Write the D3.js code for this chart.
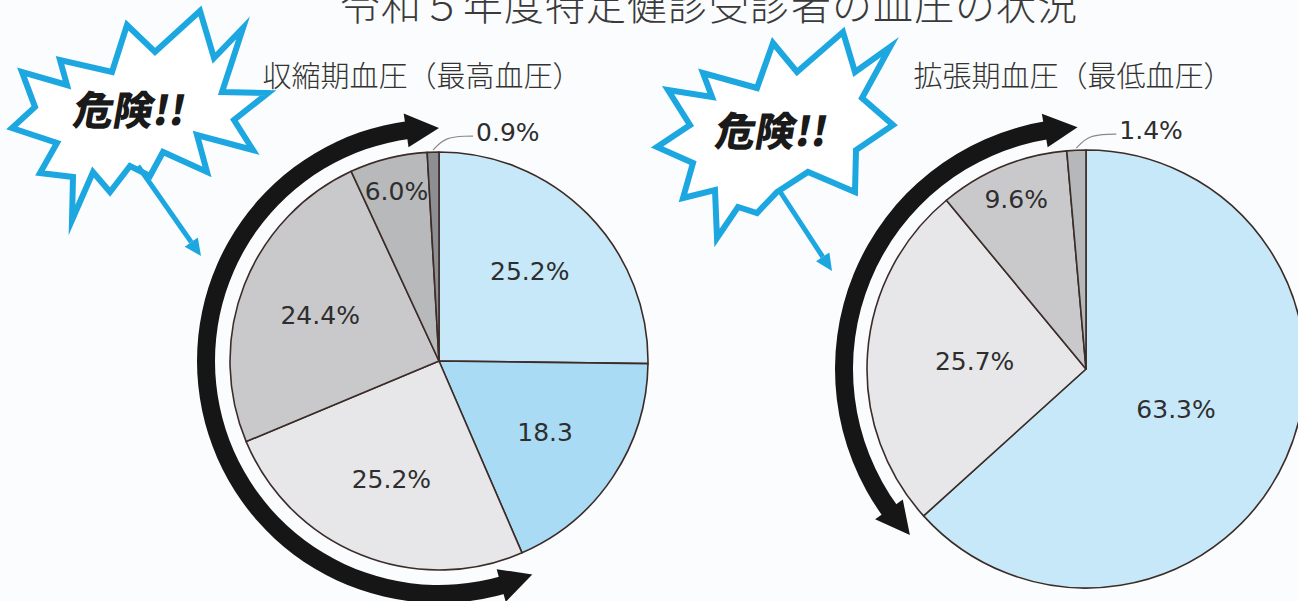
<!DOCTYPE html>
<html>
<head>
<meta charset="utf-8">
<script src="https://cdn.jsdelivr.net/npm/d3@7"></script>
<style>
  html, body { margin: 0; padding: 0; background: #fbfcfd; }
  svg { display: block; }
</style>
</head>
<body>
<svg id="chart" width="1298" height="601"></svg>
<script>
// ---------------- DATA ----------------
const titleText = "令和５年度特定健診受診者の血圧の状況";
const systolicTitle = "収縮期血圧（最高血圧）";
const diastolicTitle = "拡張期血圧（最低血圧）";
const dangerText = "危険!!";

const systolicValues = [25.2, 18.3, 25.2, 24.4, 6.0, 0.9];
const systolicLabels = ["25.2%", "18.3", "25.2%", "24.4%", "6.0%", "0.9%"];
const diastolicValues = [63.3, 25.7, 9.6, 1.4];
const diastolicLabels = ["63.3%", "25.7%", "9.6%", "1.4%"];

// ---------------- STYLE ----------------
const systolicColors = ["#c7e8f8", "#a9dcf4", "#e7e7e9", "#c9c9cb", "#b8b9bb", "#8d8f92"];
const diastolicColors = ["#c7e8f8", "#e7e7e9", "#c9c9cb", "#b6b7b9"];
const sliceStroke = "#3b2c28";
const burstBlue = "#1ca7e1";
const labelFont = "'DejaVu Sans', 'Liberation Sans', sans-serif";
const jpFont = "'Noto Sans CJK JP', 'Noto Sans', sans-serif";

const svg = d3.select("#chart");

// Title (partly cut at top as in the reference)
svg.append("text")
  .attr("x", 709).attr("y", 20)
  .attr("text-anchor", "middle")
  .attr("font-family", jpFont)
  .attr("font-weight", 300)
  .attr("font-size", 40)
  .attr("letter-spacing", 1)
  .attr("fill", "#3a3a3a")
  .text(titleText);

function polar(cx, cy, a, r) { return [cx + r * Math.sin(a), cy - r * Math.cos(a)]; }

function drawPie(cfg) {
  const g = svg.append("g");
  const pie = d3.pie().sort(null).value(d => d);
  const arcs = pie(cfg.values);
  const arc = d3.arc().innerRadius(0).outerRadius(cfg.r);

  // subtitle
  svg.append("text")
    .attr("x", cfg.titleX).attr("y", cfg.titleY)
    .attr("text-anchor", "middle")
    .attr("font-family", jpFont)
    .attr("font-weight", 300)
    .attr("font-size", 29)
    .attr("fill", "#333")
    .text(cfg.title);

  const pg = g.append("g").attr("transform", `translate(${cfg.cx},${cfg.cy})`);
  pg.selectAll("path.slice").data(arcs).enter().append("path")
    .attr("class", "slice")
    .attr("d", arc)
    .attr("fill", (d, i) => cfg.colors[i])
    .attr("stroke", sliceStroke)
    .attr("stroke-width", 1.6)
    .attr("stroke-linejoin", "round");

  // labels
  arcs.forEach((d, i) => {
    const mid = (d.startAngle + d.endAngle) / 2;
    const v = d.value;
    let x, y, anchor = "middle";
    if (v < 2) {
      // leader line to outside label
      const p0 = polar(0, 0, mid, cfg.r + 2);
      const lx = p0[0] + 40, ly = p0[1] - 14;
      pg.append("path")
        .attr("d", d3.line().curve(d3.curveBasis)([p0, [p0[0] + 12, ly + 1], [lx - 6, ly], [lx, ly]]))
        .attr("fill", "none").attr("stroke", "#8a8a8a").attr("stroke-width", 1.2);
      x = lx + 3; y = ly - 4; anchor = "start";
    } else {
      const f = v < 10 ? 0.84 : (v > 50 ? 0.45 : cfg.labelR);
      [x, y] = polar(0, 0, mid, cfg.r * f);
    }
    pg.append("text")
      .attr("x", x).attr("y", y)
      .attr("dy", "0.36em")
      .attr("text-anchor", anchor)
      .attr("font-family", labelFont)
      .attr("font-size", 25)
      .attr("fill", "#2e2e2e")
      .text(cfg.labels[i]);
  });

  // double-headed curved arrow around the pie
  const R = cfg.arrowR, half = 9, headHalf = 17, L = 33;
  const a0 = cfg.arrowStart * Math.PI / 180, a1 = cfg.arrowEnd * Math.PI / 180;
  const dA = L / R;
  const shaft = d3.arc().innerRadius(R - half).outerRadius(R + half)
    .startAngle(a0 + dA * 0.9).endAngle(a1 - dA * 0.9);
  pg.append("path").attr("d", shaft()).attr("fill", "#161616");
  const headEnd = [polar(0, 0, a1 - dA, R + headHalf), polar(0, 0, a1, R), polar(0, 0, a1 - dA, R - headHalf)];
  const headStart = [polar(0, 0, a0 + dA, R + headHalf), polar(0, 0, a0, R), polar(0, 0, a0 + dA, R - headHalf)];
  [headEnd, headStart].forEach(h => {
    pg.append("path").attr("d", "M" + h.join("L") + "Z").attr("fill", "#161616");
  });
}

drawPie({
  values: systolicValues, labels: systolicLabels, colors: systolicColors,
  cx: 439, cy: 361, r: 209, title: systolicTitle, titleX: 422, titleY: 87,
  labelR: 0.61, arrowR: 233, arrowStart: 156.4, arrowEnd: 360
});
drawPie({
  values: diastolicValues, labels: diastolicLabels, colors: diastolicColors,
  cx: 1086, cy: 369, r: 219, title: diastolicTitle, titleX: 1073, titleY: 87,
  labelR: 0.51, arrowR: 242, arrowStart: 226.7, arrowEnd: 358
});

// ---------------- decorative bursts ----------------
const burstLeft = [[127,25],[155,52],[200,11],[214,58],[243,28],[222,92],[268,93],[234,120],[253,150],[197,135],[207,172],[163,152],[150,176],[130,166],[110,192],[93,172],[72,220],[73,177],[40,173],[57,143],[12,128],[35,107],[22,72],[67,85],[60,60],[112,72]];
const burstRight = [[843,32],[855,72],[890,47],[862,98],[893,125],[856,150],[855,192],[808,172],[777,192],[757,213],[738,207],[717,238],[715,190],[683,198],[693,163],[657,147],[690,125],[668,90],[712,97],[703,73],[757,88],[773,43],[797,72]];

function drawBurst(pts, textPos, arrowFrom, arrowTo) {
  const g = svg.append("g");
  g.append("path")
    .attr("d", "M" + pts.join("L") + "Z")
    .attr("fill", "#ffffff")
    .attr("stroke", burstBlue)
    .attr("stroke-width", 6)
    .attr("stroke-linejoin", "miter")
    .attr("stroke-miterlimit", 10);
  // pointer arrow
  const dx = arrowTo[0] - arrowFrom[0], dy = arrowTo[1] - arrowFrom[1];
  const len = Math.hypot(dx, dy), ux = dx / len, uy = dy / len;
  const hl = 17, hw = 8;
  const bx = arrowTo[0] - ux * hl, by = arrowTo[1] - uy * hl;
  g.append("line")
    .attr("x1", arrowFrom[0]).attr("y1", arrowFrom[1])
    .attr("x2", bx).attr("y2", by)
    .attr("stroke", burstBlue).attr("stroke-width", 5);
  g.append("path")
    .attr("d", `M${arrowTo[0]},${arrowTo[1]}L${bx - uy * hw},${by + ux * hw}L${bx + uy * hw},${by - ux * hw}Z`)
    .attr("fill", burstBlue);
  g.append("text")
    .attr("transform", `translate(${textPos[0]},${textPos[1]}) skewX(-10)`)
    .attr("text-anchor", "middle")
    .attr("dy", "0.36em")
    .attr("font-family", jpFont)
    .attr("font-weight", 900)
    .attr("font-size", 40)
    .attr("fill", "#1a1a1a")
    .text(dangerText);
}
drawBurst(burstLeft, [130, 111], [138, 166], [201, 256]);
drawBurst(burstRight, [772, 132], [779, 190], [832, 271]);
</script>
</body>
</html>
